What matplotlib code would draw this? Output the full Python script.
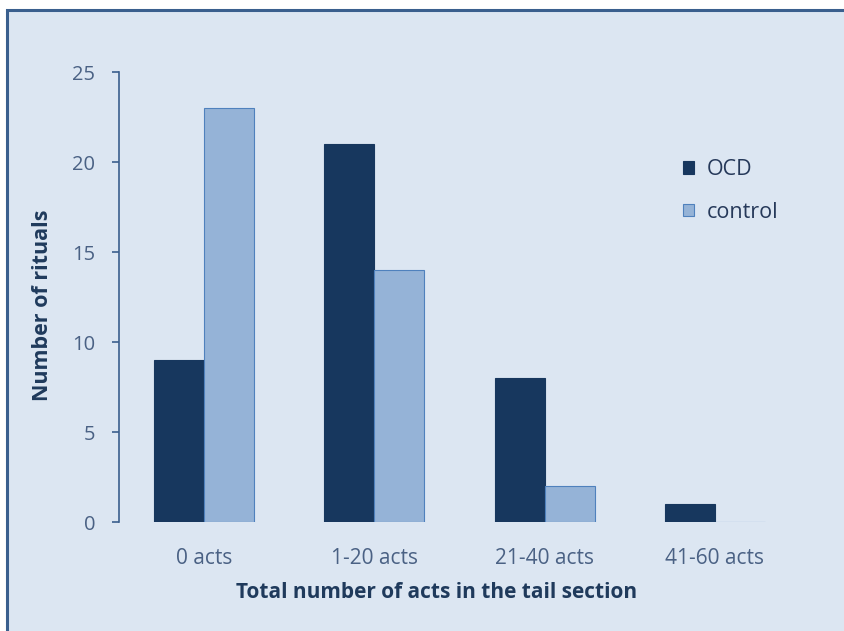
import matplotlib
matplotlib.use("Agg")
import matplotlib.pyplot as plt
from matplotlib.patches import Rectangle
import numpy as np

categories = ["0 acts", "1-20 acts", "21-40 acts", "41-60 acts"]
ocd = [9, 21, 8, 1]
control = [23, 14, 2, 0]
yticks = [0, 5, 10, 15, 20, 25]

plt.rcParams['font.family'] = ['Open Sans', 'DejaVu Sans']

W, H = 844, 631
fig = plt.figure(figsize=(W / 100, H / 100), dpi=100)
fig.patch.set_facecolor('white')

bg = Rectangle((7 / W, -0.05), 1.1, 1 - 10 / H + 0.05, transform=fig.transFigure,
               facecolor='#DCE6F2', edgecolor='#3A5F8E', linewidth=2.2, zorder=-10)
fig.patches.append(bg)

ax = fig.add_axes([119 / W, 1 - 522 / H, (800 - 119) / W, (522 - 72) / H])
ax.set_facecolor('none')
ax.set_zorder(5)

x = np.arange(len(categories))
w = 0.294
ax.bar(x - w / 2, ocd, width=w, color='#17375E', edgecolor='#17375E', linewidth=0.8, label='OCD')
ax.bar(x + w / 2, control, width=w, color='#95B3D7', edgecolor='#4F81BD', linewidth=0.8, label='control')

ax.set_xlim(-0.5, 3.5)
ax.set_ylim(0, 25)
ax.set_yticks(yticks)
ax.set_xticks(x)
ax.set_xticklabels(categories)

for s in ['top', 'right', 'bottom']:
    ax.spines[s].set_visible(False)
ax.spines['left'].set_color('#3A5F8E')
ax.spines['left'].set_linewidth(1.2)
ax.tick_params(axis='y', direction='out', length=5, width=1.2, color='#3A5F8E',
               labelcolor='#4A6184', labelsize=14.5, pad=12)
ax.tick_params(axis='x', length=0, labelcolor='#4A6184', labelsize=15, pad=19)

ax.set_ylabel('Number of rituals', fontsize=15.5, fontweight='bold', color='#1F3A5C',
              va='center', ha='center')
ax.yaxis.set_label_coords(-0.113, 0.482)
ax.set_xlabel('Total number of acts in the tail section', fontsize=15, fontweight='bold',
              color='#1F3A5C', va='center', ha='center')
ax.xaxis.set_label_coords(0.467, -0.157)

leg = ax.legend(loc='upper left', bbox_to_anchor=(683 / W, 1 - 159 / H),
                bbox_transform=fig.transFigure, frameon=False, fontsize=15.5,
                labelcolor='#26395A', handlelength=0.52, handleheight=0.52, handletextpad=0.6,
                labelspacing=1.0, borderpad=0, borderaxespad=0)

fig.savefig('out.png', dpi=100)
